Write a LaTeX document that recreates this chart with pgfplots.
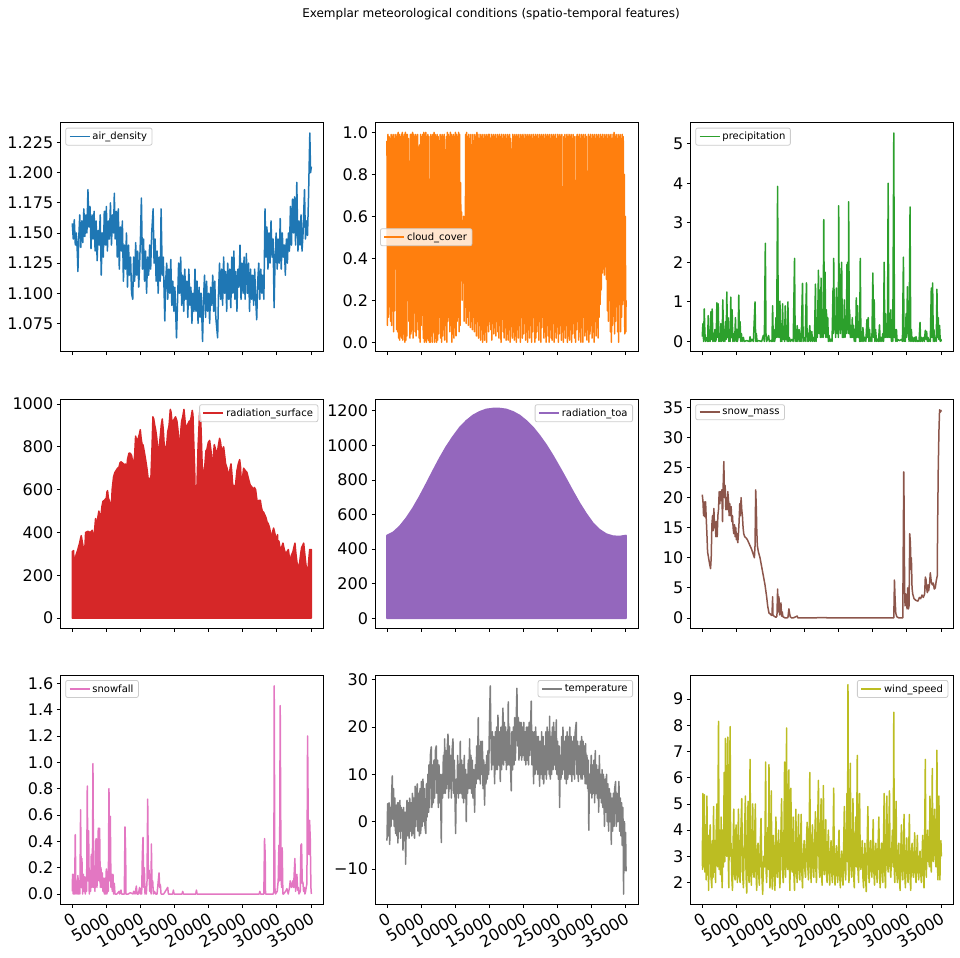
\documentclass[border=0pt]{standalone}
\usepackage{fontspec}
\setmainfont{DejaVu Sans}
\usepackage{pgfplots}
\pgfplotsset{compat=1.18}
\definecolor{c0}{HTML}{1F77B4}
\definecolor{c1}{HTML}{FF7F0E}
\definecolor{c2}{HTML}{2CA02C}
\definecolor{c3}{HTML}{D62728}
\definecolor{c4}{HTML}{9467BD}
\definecolor{c5}{HTML}{8C564B}
\definecolor{c6}{HTML}{E377C2}
\definecolor{c7}{HTML}{7F7F7F}
\definecolor{c8}{HTML}{BCBD22}
\pgfplotsset{
  panel/.style={
    scale only axis, width=263bp, height=229bp,
    xmin=-1753, xmax=36816,
    xtick={0,5000,10000,15000,20000,25000,30000,35000},
    xticklabels={},
    tick pos=left, tick align=outside,
    major tick length=3.5bp,
    tick style={black, line width=0.8bp},
    axis line style={line width=0.8bp},
    ticklabel style={font=\fontsize{16bp}{19bp}\selectfont},
    /pgf/number format/assume math mode=true,
    scaled ticks=false,
    legend cell align=left,
    legend image code/.code={\draw[##1,line width=1.7bp] (0bp,0bp) -- (20bp,0bp);},
    legend style={font=\fontsize{10bp}{12bp}\selectfont, draw=black!20, line width=0.8bp, rounded corners=2bp, fill=white, fill opacity=0.8, text opacity=1, draw opacity=1, inner xsep=3bp, inner ysep=2bp},
  },
  bottomrow/.style={xticklabels={0,5000,10000,15000,20000,25000,30000,35000}, xticklabel style={rotate=30, anchor=north east}},
  ul/.style={legend style={at={(0,1)}, anchor=north west, xshift=5bp, yshift=-5bp}},
  ur/.style={legend style={at={(1,1)}, anchor=north east, xshift=-5bp, yshift=-5bp}},
  cl/.style={legend style={at={(0,0.5)}, anchor=west, xshift=5bp}},
  ln/.style={line width=1.5bp, line join=round, mark=none},
}
\begin{document}
\begin{tikzpicture}
\path[use as bounding box] (0bp,0bp) rectangle (960bp,-958bp);
\node[font=\fontsize{12bp}{14bp}\selectfont] at (491bp,-14bp) {Exemplar meteorological conditions (spatio-temporal features)};

% ---------- air_density
\begin{axis}[panel, ul, at={(60.3bp,-122.7bp)}, anchor=north west,
  ymin=1.0515, ymax=1.2415,
  ytick={1.075,1.1,1.125,1.15,1.175,1.2,1.225},
  yticklabels={1.075,1.100,1.125,1.150,1.175,1.200,1.225}]
\addplot[c0, ln] coordinates {
(0,1.158)(150,1.145)(300,1.161)(450,1.140)(600,1.150)(750,1.133)(830,1.118)(950,1.145)(1100,1.165)(1250,1.138)
(1400,1.160)(1550,1.142)(1700,1.170)(1850,1.147)(2000,1.165)(2150,1.150)(2300,1.186)(2450,1.155)(2600,1.172)(2750,1.137)
(2900,1.165)(3050,1.145)(3200,1.168)(3350,1.135)(3500,1.160)(3650,1.127)(3800,1.152)(3950,1.140)(4100,1.165)(4250,1.115)
(4400,1.150)(4550,1.130)(4700,1.168)(4850,1.140)(5000,1.172)(5150,1.135)(5300,1.160)(5450,1.145)(5600,1.175)(5750,1.140)
(5900,1.165)(6050,1.150)(6170,1.183)(6300,1.145)(6450,1.168)(6600,1.130)(6750,1.170)(6900,1.120)(7050,1.155)(7200,1.135)
(7350,1.160)(7500,1.110)(7650,1.140)(7800,1.120)(7950,1.150)(8100,1.105)(8250,1.140)(8400,1.115)(8550,1.130)(8700,1.100)
(8870,1.095)(9000,1.130)(9150,1.110)(9300,1.142)(9450,1.115)(9600,1.135)(9750,1.105)(9900,1.128)(10000,1.145)(10140,1.179)
(10300,1.120)(10450,1.145)(10600,1.110)(10750,1.135)(10900,1.100)(11050,1.130)(11200,1.115)(11350,1.140)(11500,1.120)(11650,1.150)
(11860,1.170)(12000,1.125)(12150,1.145)(12300,1.110)(12450,1.135)(12600,1.100)(12750,1.130)(12900,1.110)(13030,1.170)(13200,1.115)
(13350,1.130)(13570,1.077)(13700,1.110)(13850,1.125)(14000,1.095)(14150,1.120)(14300,1.100)(14450,1.128)(14600,1.090)(14750,1.110)
(14900,1.085)(15050,1.105)(15290,1.063)(15450,1.095)(15600,1.125)(15750,1.100)(15900,1.130)(16050,1.090)(16200,1.115)(16350,1.085)
(16500,1.120)(16650,1.095)(16800,1.110)(16950,1.080)(17100,1.120)(17250,1.090)(17400,1.105)(17550,1.075)(17700,1.100)(17850,1.085)
(18000,1.120)(18150,1.085)(18300,1.110)(18450,1.075)(18600,1.105)(18750,1.080)(18900,1.100)(19110,1.060)(19250,1.095)(19400,1.115)
(19550,1.080)(19700,1.110)(19850,1.085)(20000,1.100)(20150,1.075)(20300,1.105)(20450,1.090)(20600,1.115)(20750,1.085)(20900,1.110)
(21050,1.080)(21320,1.063)(21450,1.100)(21600,1.125)(21750,1.095)(21900,1.120)(22050,1.090)(22200,1.130)(22350,1.100)(22500,1.118)
(22650,1.085)(22800,1.125)(22950,1.095)(23100,1.120)(23250,1.088)(23400,1.130)(23550,1.100)(23700,1.135)(23850,1.095)(24000,1.118)
(24150,1.085)(24300,1.120)(24450,1.105)(24600,1.140)(24750,1.095)(24900,1.125)(25050,1.100)(25200,1.130)(25350,1.095)(25530,1.133)
(25700,1.100)(25850,1.125)(26000,1.085)(26150,1.120)(26300,1.095)(26450,1.115)(26600,1.090)(26750,1.120)(26900,1.095)(27050,1.078)
(27200,1.110)(27350,1.125)(27500,1.095)(27650,1.120)(27800,1.100)(27950,1.115)(28100,1.095)(28270,1.170)(28400,1.130)(28550,1.155)
(28700,1.120)(28850,1.150)(29000,1.125)(29150,1.160)(29300,1.130)(29450,1.145)(29600,1.088)(29750,1.130)(29900,1.150)(30050,1.120)
(30200,1.145)(30350,1.125)(30500,1.162)(30650,1.120)(30800,1.150)(30950,1.130)(31100,1.140)(31250,1.115)(31400,1.145)(31550,1.125)
(31700,1.150)(31850,1.135)(32000,1.172)(32150,1.140)(32300,1.178)(32450,1.150)(32600,1.180)(32750,1.140)(32930,1.192)(33100,1.135)
(33250,1.160)(33400,1.140)(33550,1.165)(33700,1.135)(33850,1.150)(34060,1.186)(34200,1.145)(34350,1.160)(34500,1.148)(34650,1.180)
(34840,1.233)(34950,1.200)(35063,1.205)
};
\addlegendentry{air\_density}
\end{axis}

% ---------- cloud_cover
\begin{axis}[panel, cl, at={(375bp,-122.7bp)}, anchor=north west,
  ymin=-0.045, ymax=1.046,
  ytick={0,0.2,0.4,0.6,0.8,1.0},
  yticklabels={0.0,0.2,0.4,0.6,0.8,1.0}]
\addplot[c1, ln] coordinates {
(0,.96)(75,.08)(150,.99)(225,.12)(300,.98)(375,.30)(450,.97)(525,.10)(600,.99)(675,.08)
(750,.98)(825,.15)(900,.99)(975,.05)(1050,.97)(1125,.15)(1200,.99)(1275,.35)(1350,.98)(1425,.06)
(1500,.99)(1575,.05)(1650,1.0)(1725,.02)(1800,.99)(1875,.01)(1950,.98)(2025,.03)(2100,.99)(2175,.02)
(2250,1.0)(2325,.01)(2400,.98)(2475,.04)(2550,.99)(2625,.00)(2700,1.0)(2775,.01)(2850,.99)(2925,.03)
(3000,.99)(3075,.20)(3150,.97)(3225,.10)(3300,.75)(3375,.02)(3450,.99)(3525,.04)(3600,.99)(3675,.06)
(3750,1.0)(3825,.02)(3900,.99)(3975,.14)(4050,.98)(4125,.05)(4200,.99)(4275,.03)(4350,.98)(4425,.10)
(4500,.99)(4575,.06)(4650,.93)(4725,.02)(4800,.94)(4875,.00)(4950,.99)(5025,.08)(5100,.98)(5175,.15)
(5250,.99)(5325,.02)(5400,1.0)(5475,.00)(5550,.99)(5625,.01)(5700,1.0)(5775,.00)(5850,.98)(5925,.02)
(6000,.99)(6075,.01)(6150,.98)(6225,.00)(6300,.45)(6375,.00)(6450,.99)(6525,.03)(6600,.98)(6675,.00)
(6750,.99)(6825,.05)(6900,1.0)(6975,.00)(7050,.99)(7125,.02)(7200,.98)(7275,.00)(7350,.99)(7425,.01)
(7500,.98)(7575,.04)(7650,.96)(7725,.12)(7800,.99)(7875,.02)(7950,.98)(8025,.00)(8100,.99)(8175,.03)
(8250,.98)(8325,.06)(8400,.99)(8475,.01)(8550,.40)(8625,.08)(8700,.98)(8775,.00)(8850,1.0)(8925,.10)
(9000,.99)(9075,.12)(9150,.98)(9225,.05)(9300,1.0)(9375,.08)(9450,.99)(9525,.00)(9600,.98)(9675,.04)
(9750,.99)(9825,.02)(9900,.98)(9975,.07)(10050,1.0)(10125,.03)(10200,.99)(10275,.10)(10350,.98)(10425,.12)
(10500,1.0)(10575,.05)(10650,.99)(10725,.08)(10800,.76)(10875,.40)(10950,.62)(11025,.20)(11100,.58)(11175,.40)
(11250,.60)(11325,.10)(11400,.59)(11475,.30)(11550,.99)(11625,.09)(11700,1.0)(11775,.12)(11850,.98)(11925,.08)
(12000,.99)(12075,.15)(12150,.97)(12225,.07)(12300,.99)(12375,.10)(12450,.94)(12525,.06)(12600,.99)(12675,.12)
(12750,.96)(12825,.05)(12900,.99)(12975,.09)(13050,.98)(13125,.03)(13200,1.0)(13275,.10)(13350,.99)(13425,.02)
(13500,.97)(13575,.08)(13650,.99)(13725,.01)(13800,.98)(13875,.06)(13950,.99)(14025,.00)(14100,.97)(14175,.04)
(14250,.99)(14325,.01)(14400,.98)(14475,.05)(14550,.99)(14625,.00)(14700,.98)(14775,.08)(14850,.99)(14925,.05)
(15000,.99)(15075,.10)(15150,.97)(15225,.06)(15300,.99)(15375,.01)(15450,.98)(15525,.09)(15600,.99)(15675,.04)
(15750,.98)(15825,.07)(15900,.99)(15975,.03)(16050,.97)(16125,.10)(16200,.99)(16275,.05)(16350,.98)(16425,.02)
(16500,.99)(16575,.08)(16650,.98)(16725,.00)(16800,.99)(16875,.11)(16950,.97)(17025,.05)(17100,.99)(17175,.02)
(17250,.98)(17325,.07)(17400,.99)(17475,.01)(17550,.97)(17625,.04)(17700,.99)(17775,.01)(17850,.98)(17925,.06)
(18000,.99)(18075,.00)(18150,.97)(18225,.08)(18300,.48)(18375,.02)(18450,.99)(18525,.05)(18600,.98)(18675,.01)
(18750,.99)(18825,.03)(18900,.98)(18975,.00)(19050,.99)(19125,.06)(19200,.98)(19275,.02)(19350,.99)(19425,.08)
(19500,.97)(19575,.00)(19650,.99)(19725,.12)(19800,.98)(19875,.02)(19950,.99)(20025,.04)(20100,.97)(20175,.09)
(20250,.99)(20325,.01)(20400,.98)(20475,.05)(20550,.99)(20625,.00)(20700,.98)(20775,.06)(20850,.99)(20925,.02)
(21000,.98)(21075,.08)(21150,.99)(21225,.00)(21300,.97)(21375,.05)(21450,.99)(21525,.18)(21600,.98)(21675,.00)
(21750,.99)(21825,.02)(21900,.98)(21975,.05)(22050,.99)(22125,.08)(22200,.97)(22275,.01)(22350,.99)(22425,.10)
(22500,.98)(22575,.00)(22650,.99)(22725,.07)(22800,.98)(22875,.12)(22950,.99)(23025,.02)(23100,.97)(23175,.05)
(23250,.99)(23325,.00)(23400,.98)(23475,.08)(23550,.99)(23625,.03)(23700,.98)(23775,.00)(23850,.99)(23925,.06)
(24000,.97)(24075,.02)(24150,.99)(24225,.01)(24300,.98)(24375,.09)(24450,.99)(24525,.00)(24600,.98)(24675,.05)
(24750,.99)(24825,.02)(24900,.97)(24975,.10)(25050,.99)(25125,.00)(25200,.98)(25275,.04)(25350,.99)(25425,.08)
(25500,.98)(25575,.01)(25650,.99)(25725,.05)(25800,.67)(25875,.00)(25950,.98)(26025,.06)(26100,.99)(26175,.02)
(26250,.97)(26325,.08)(26400,.99)(26475,.00)(26550,.98)(26625,.03)(26700,.99)(26775,.01)(26850,.98)(26925,.06)
(27000,.99)(27075,.00)(27150,.97)(27225,.04)(27300,.99)(27375,.09)(27450,.98)(27525,.02)(27600,.45)(27675,.00)
(27750,.98)(27825,.06)(27900,.99)(27975,.10)(28050,.98)(28125,.01)(28200,.99)(28275,.05)(28350,.97)(28425,.00)
(28500,.99)(28575,.07)(28650,.98)(28725,.00)(28800,.99)(28875,.12)(28950,.97)(29025,.03)(29100,.99)(29175,.05)
(29250,.98)(29325,.01)(29400,.50)(29475,.06)(29550,.99)(29625,.00)(29700,.98)(29775,.04)(29850,.99)(29925,.08)
(30000,.97)(30075,.02)(30150,.99)(30225,.05)(30300,.98)(30375,.00)(30450,.99)(30525,.10)(30600,.97)(30675,.03)
(30750,.99)(30825,.07)(30900,.98)(30975,.02)(31050,.99)(31125,.12)(31200,.97)(31275,.18)(31350,.99)(31425,.25)
(31500,.98)(31575,.33)(31650,.99)(31725,.35)(31800,.97)(31875,.32)(31950,.99)(32025,.36)(32100,.98)(32175,.30)
(32250,.99)(32325,.15)(32400,.97)(32475,.10)(32550,.99)(32625,.20)(32700,.98)(32775,.05)(32850,.99)(32925,.00)
(33000,.97)(33075,.08)(33150,.99)(33225,.18)(33300,1.0)(33375,.04)(33450,.98)(33525,.10)(33600,.99)(33675,.17)
(33750,.97)(33825,.05)(33900,.99)(33975,.00)(34050,.98)(34125,.18)(34200,.99)(34275,.05)(34350,.97)(34425,.12)
(34500,.99)(34575,.18)(34650,.98)(34725,.20)(34800,.80)(34875,.04)(34950,.60)(35025,.05)(35063,.20)
};
\addlegendentry{cloud\_cover}
\end{axis}

% ---------- precipitation
\begin{axis}[panel, ul, at={(690.3bp,-122.7bp)}, anchor=north west,
  ymin=-0.26, ymax=5.53,
  ytick={0,1,2,3,4,5}, yticklabels={0,1,2,3,4,5}]
\addplot[c2, ln] coordinates {
(0,0.12)(97,0.45)(195,0)(292,0.82)(389,0.2)(487,0)(682,0.1)(779,0)(876,0.65)(974,0)
(1071,0.1)(1168,0)(1266,0.75)(1363,0.05)(1460,0.82)(1558,0)(1655,0.2)(1752,0)(1850,0.3)(1947,0)
(2045,0.05)(2142,0.98)(2239,0.1)(2337,0.95)(2434,0)(2531,0.2)(2629,0)(2726,0.45)(2823,0)(2921,0.1)
(3018,1.05)(3115,0)(3213,0.2)(3310,0)(3407,0.5)(3505,0.05)(3602,1.25)(3699,0.1)(3797,0.6)(3894,0)
(3991,0.3)(4089,0)(4186,1.12)(4283,0.1)(4381,0.8)(4478,0)(4575,0.2)(4673,0)(4770,0.1)(4867,0.6)
(4965,0)(5062,0.3)(5160,0)(5257,0.1)(5354,1.17)(5452,0.1)(5549,0.5)(5646,0)(5744,0.2)(5841,0)
(6036,0.1)(6133,0)(6523,0.02)(6912,0)(7010,0.12)(7107,0)(7302,0.05)(7497,0)(7740,1.0)(7837,0)
(7935,0.2)(8032,0)(8227,0.02)(8714,0)(8957,0.15)(9103,0)(9249,2.48)(9346,0.2)(9444,0)(9736,0.15)
(9833,0)(10028,0.02)(10222,0)(10320,0.9)(10417,0)(10514,0.3)(10612,0)(10709,0.1)(10806,0.6)(10904,0.1)
(11050,3.92)(11147,0.1)(11245,0.6)(11342,0.1)(11391,1.02)(11488,0)(11586,0.3)(11683,0)(11780,0.95)(11878,0.05)
(11975,0.2)(12073,0)(12170,0.9)(12267,0.05)(12365,0.4)(12462,0)(12559,1.0)(12657,0)(12754,0.1)(12949,0)
(13143,0.05)(13338,0)(13533,2.1)(13630,0)(13728,0.3)(13825,0)(13922,0.4)(14020,0)(14214,0.3)(14312,0)
(14409,0.2)(14506,0)(14701,1.47)(14798,0)(14896,0.1)(15090,0)(15285,1.48)(15382,0)(15480,0.2)(15577,0)
(15772,0.4)(15869,0)(16064,0.25)(16161,0)(16259,0.1)(16453,0)(16600,1.45)(16697,0)(16746,0.3)(16892,0.1)
(17038,1.8)(17135,0.2)(17233,1.3)(17330,0.1)(17427,1.6)(17525,0.1)(17622,0.6)(17719,0.1)(17817,3.08)(17914,0.2)
(18011,1.75)(18109,0.1)(18206,0.8)(18303,0.1)(18401,0.6)(18498,0)(18595,0.15)(18741,0)(18888,0.05)(19034,0)
(19180,1.35)(19229,0.2)(19277,2.1)(19375,0.3)(19472,0.5)(19569,0.1)(19667,1.35)(19764,0.2)(19862,0.8)(19959,0.1)
(20007,3.43)(20105,0.3)(20154,1.85)(20251,0.2)(20299,1.0)(20397,0.3)(20445,2.0)(20543,0.1)(20640,0.5)(20737,0.1)
(20835,1.05)(20932,0.1)(21030,0.5)(21127,0.2)(21224,1.95)(21273,0.3)(21322,2.0)(21419,0.2)(21468,3.53)(21565,0.2)
(21614,0.8)(21711,0.1)(21809,0.4)(21906,0.1)(22003,0.6)(22101,0.1)(22198,0.4)(22295,0)(22393,0.3)(22490,0)
(22587,1.1)(22685,0.1)(22782,0.9)(22879,0.1)(22977,0.5)(23074,0)(23172,2.1)(23269,0)(23366,0.2)(23464,0)
(23561,0.35)(23707,0)(23853,0.1)(23999,0)(24145,0.55)(24243,0.1)(24340,0.6)(24437,0)(24535,0.3)(24632,0)
(24729,0.1)(24875,0)(25021,1.73)(25119,0.1)(25216,1.05)(25313,0)(25411,0.3)(25557,0)(25703,0.05)(25849,0)
(25995,0.42)(26093,0)(26190,0.1)(26336,0)(26482,0.2)(26579,0)(26677,2.0)(26774,0.1)(26871,0.7)(26969,0.1)
(27066,0.4)(27163,0.1)(27261,4.0)(27358,0.1)(27455,0.7)(27553,0.1)(27650,0.8)(27747,0)(27845,0.2)(27942,0)
(28088,5.27)(28185,0.1)(28283,0.3)(28380,0)(28477,0.3)(28575,0)(28672,0.05)(28915,0.02)(29208,0.05)(29354,0)
(29500,2.13)(29597,0)(29694,0.1)(29792,0)(29889,0.7)(29986,0.1)(30084,1.38)(30132,0.2)(30181,0.6)(30327,0)
(30473,3.4)(30570,0)(30668,0.3)(30765,0)(30862,0.1)(31008,0)(31154,0.1)(31252,0)(31349,0.12)(31495,0)
(31641,0.02)(31787,0)(31934,0.48)(32031,0)(32128,0.1)(32274,0)(32420,0.1)(32566,0)(32713,0.28)(32810,0.05)
(32907,0.25)(33005,0)(33102,0.1)(33199,0)(33296,0.05)(33442,0)(33589,1.35)(33686,0.1)(33783,1.48)(33881,0)
(33978,0.3)(34075,0)(34221,0.1)(34319,0)(34416,1.32)(34513,0.1)(34611,0.6)(34708,0.05)(34805,0.4)(34902,0)
(35000,0.05)(35063,0)
};
\addlegendentry{precipitation}
\end{axis}

% ---------- radiation_surface
\begin{axis}[panel, ur, at={(60.3bp,-399.3bp)}, anchor=north west,
  ymin=-48, ymax=1022,
  ytick={0,200,400,600,800,1000}, yticklabels={0,200,400,600,800,1000}]
\addplot[c3, ln, fill=c3] coordinates {
(0,0)(0,310)(200,315)(290,225)(400,270)(600,300)(780,315)(900,330)(1080,350)(1200,370)
(1320,385)(1450,360)(1560,340)(1700,300)(1760,295)(1850,330)(1960,400)(2300,405)(2640,400)(2800,405)
(2930,410)(3050,380)(3130,350)(3250,400)(3420,465)(3550,440)(3670,450)(3800,480)(3910,500)(4050,470)
(4200,475)(4350,520)(4500,545)(4700,550)(4990,560)(5100,590)(5180,595)(5300,560)(5480,545)(5600,520)
(5720,505)(5850,600)(6060,660)(6250,680)(6450,690)(6650,700)(6850,705)(7000,725)(7140,730)(7350,725)
(7530,720)(7700,700)(7780,720)(7820,440)(7860,680)(7920,670)(8100,740)(8310,770)(8500,770)(8700,760)
(8850,730)(9000,720)(9150,760)(9290,850)(9450,830)(9680,840)(9850,860)(9980,880)(10100,840)(10250,810)
(10370,810)(10550,780)(10760,740)(10950,700)(11100,660)(11250,600)(11350,650)(11540,660)(11700,800)(11830,940)
(11950,930)(12100,900)(12230,880)(12400,840)(12500,800)(12620,760)(12750,800)(12910,850)(13050,900)(13200,930)
(13350,880)(13500,800)(13590,760)(13700,790)(13880,820)(14000,870)(14200,900)(14380,975)(14500,960)(14670,900)
(14800,920)(14960,930)(15150,940)(15350,920)(15500,880)(15700,770)(15850,850)(16040,920)(16200,940)(16380,975)
(16550,920)(16720,860)(16850,900)(17020,910)(17150,920)(17310,920)(17450,940)(17600,970)(17700,950)(17800,840)
(17950,700)(18090,480)(18150,560)(18290,620)(18450,800)(18680,960)(18850,920)(18970,800)(19070,700)(19170,630)
(19300,680)(19460,720)(19600,780)(19760,790)(19950,820)(20150,830)(20350,780)(20540,700)(20700,760)(20830,810)
(21000,790)(21220,760)(21400,800)(21610,840)(21750,820)(21900,780)(22050,790)(22200,800)(22350,760)(22490,720)
(22700,700)(22980,660)(23150,700)(23280,720)(23400,680)(23570,600)(23700,620)(23860,590)(24000,640)(24160,690)
(24350,720)(24550,740)(24700,700)(24840,480)(24950,650)(25130,700)(25350,690)(25620,680)(25850,650)(26110,620)
(26300,615)(26500,600)(26700,610)(26890,600)(27050,560)(27190,530)(27350,550)(27580,550)(27720,520)(27870,500)
(28050,495)(28260,480)(28400,470)(28560,450)(28750,440)(28950,420)(29100,390)(29240,360)(29350,400)(29530,420)
(29680,400)(29820,380)(30000,370)(30100,390)(30210,310)(30300,360)(30510,320)(30700,330)(30900,350)(31100,320)
(31290,300)(31500,310)(31690,320)(31850,280)(31980,240)(32100,290)(32370,310)(32500,330)(32660,350)(32800,300)
(32960,260)(33150,230)(33350,260)(33500,300)(33640,330)(33800,340)(33940,350)(34100,300)(34230,260)(34400,220)
(34520,200)(34650,260)(34820,320)(35000,320)(35063,320)(35063,0)
} \closedcycle;
\addlegendentry{radiation\_surface}
\end{axis}

% ---------- radiation_toa
\begin{axis}[panel, ur, at={(375bp,-399.3bp)}, anchor=north west,
  ymin=-58, ymax=1266,
  ytick={0,200,400,600,800,1000,1200}, yticklabels={0,200,400,600,800,1000,1200}]
\addplot[c4, ln, fill=c4] coordinates {
(0,0)(0,479)(880,496)(1857,531)(2835,579)(3813,637)(4790,704)(5768,777)(6745,852)(7723,925)
(8700,992)(9678,1050)(10656,1102)(11633,1142)(12611,1173)(13589,1194)(14566,1208)(15544,1213)(16522,1213)(17499,1208)
(18477,1194)(19454,1173)(20432,1142)(21410,1104)(22387,1056)(23365,1002)(24342,940)(25320,873)(26298,804)(27275,733)
(28253,665)(29230,604)(30208,550)(31186,512)(32163,487)(33141,475)(34118,473)(35063,479)(35063,0)
} \closedcycle;
\addlegendentry{radiation\_toa}
\end{axis}

% ---------- snow_mass
\begin{axis}[panel, ul, at={(690.3bp,-399.3bp)}, anchor=north west,
  ymin=-1.73, ymax=36.35,
  ytick={0,5,10,15,20,25,30,35}, yticklabels={0,5,10,15,20,25,30,35}]
\addplot[c5, ln] coordinates {
(0,20.5)(97,19.5)(195,17)(292,19.3)(389,16.8)(487,19.3)(584,16.5)(682,14)(779,11)(925,10)
(1071,9)(1217,8.2)(1314,10)(1412,15.5)(1509,17)(1606,14.5)(1704,18.2)(1801,15)(1899,16)(1996,13.5)
(2093,16)(2191,13.5)(2288,17)(2385,18)(2483,21)(2580,19)(2677,21)(2775,19.5)(2872,21.3)(2970,16)
(3067,22)(3164,26)(3262,20)(3359,22)(3456,18)(3554,20)(3651,18)(3748,21)(3846,19.5)(3943,17)
(4040,19)(4138,17)(4235,18.5)(4332,16)(4430,17)(4527,15)(4625,14)(4722,15.5)(4819,13.5)(4917,15)
(5014,13)(5111,14)(5209,12.5)(5306,14)(5403,16)(5501,19)(5598,17)(5695,20)(5793,18)(5890,17)
(5988,15)(6085,14)(6231,13.5)(6426,13.3)(6621,13)(6815,12.5)(7010,12)(7205,11.5)(7351,11)(7497,10.5)
(7643,10)(7740,12)(7837,21.3)(7935,18)(7983,15)(8081,12)(8227,11)(8470,10)(8714,8.5)(8957,7)
(9200,5.5)(9444,3.5)(9590,2)(9785,0.8)(9931,0.7)(10077,0.5)(10222,0.4)(10320,3.5)(10368,0.5)(10514,0.3)
(10660,0.2)(10806,0.1)(10952,0.3)(11050,4.8)(11147,1.0)(11245,3.5)(11342,0.5)(11440,0.8)(11537,2.5)(11634,0.3)
(11732,1.0)(11829,0.2)(11975,0.1)(12170,0)(12365,0)(12559,0.05)(12705,1.5)(12803,0.8)(12900,0.2)(13095,0)
(13338,0)(13922,0.3)(14020,0)(15285,0)(18206,0.05)(18255,0)(21614,0)(26482,0)(28088,0)(28185,6.3)
(28283,3.0)(28380,0.8)(28526,0.2)(28818,0)(29403,0)(29500,16)(29548,24.3)(29597,19)(29646,10)(29694,4)
(29743,2)(29840,4)(29938,3)(30035,1.5)(30132,5)(30230,1.5)(30327,2)(30424,14)(30522,12.5)(30619,8)
(30668,10)(30765,5)(30862,4)(31057,3.2)(31349,2.9)(31641,2.8)(31836,3.4)(32031,3.2)(32226,3.8)(32420,3.4)
(32615,4)(32713,6.8)(32810,6.4)(32907,5.0)(33005,4.2)(33102,5.5)(33199,4.5)(33345,5.8)(33442,7.5)(33589,6)
(33735,5.5)(33881,5.8)(34027,4.8)(34173,5.0)(34319,6.2)(34465,7)(34513,15)(34611,25)(34708,31)(34805,34.6)
(34902,34.2)(35000,34.5)(35063,34.3)
};
\addlegendentry{snow\_mass}
\end{axis}

% ---------- snowfall
\begin{axis}[panel, ul, bottomrow, at={(60.3bp,-675bp)}, anchor=north west,
  ymin=-0.076, ymax=1.663,
  ytick={0,0.2,0.4,0.6,0.8,1.0,1.2,1.4,1.6},
  yticklabels={0.0,0.2,0.4,0.6,0.8,1.0,1.2,1.4,1.6}]
\addplot[c6, ln] coordinates {
(0,0.02)(49,0.15)(147,0)(245,0.15)(343,0)(440,0.45)(538,0)(636,0.02)(734,0)(832,0.14)
(930,0)(1028,0.1)(1126,0)(1224,0.64)(1322,0.05)(1420,0.27)(1517,0)(1615,0.15)(1713,0.02)(1811,0.13)
(1909,0)(2007,0.13)(2105,0.02)(2203,0.82)(2301,0.1)(2399,0.48)(2496,0)(2594,0.12)(2692,0.02)(2790,0.3)
(2888,0.05)(2986,0.41)(3035,0.99)(3133,0.05)(3231,0.12)(3329,0.02)(3427,0.4)(3524,0.42)(3622,0.05)(3720,0.22)
(3818,0.5)(3916,0.1)(4014,0.5)(4112,0.05)(4210,0.2)(4308,0.05)(4406,0.16)(4503,0.02)(4601,0.12)(4699,0)
(4797,0.12)(4895,0)(4993,0.19)(5091,0)(5189,0.17)(5287,0.02)(5385,0.8)(5482,0.1)(5580,0.59)(5678,0.05)
(5776,0.15)(5874,0.02)(5972,0.15)(6070,0)(6168,0.08)(6266,0)(6559,0)(6853,0.02)(6951,0)(7147,0.03)
(7245,0)(7636,0)(7734,0.51)(7832,0.3)(7881,0)(8224,0)(8517,0.01)(8909,0)(9007,0.02)(9203,0)
(9398,0.06)(9496,0)(9692,0)(9888,0.05)(9986,0)(10084,0.04)(10182,0)(10280,0.3)(10378,0.43)(10476,0.05)
(10573,0.2)(10671,0)(10769,0.05)(10867,0)(10965,0.1)(11063,0.72)(11161,0.12)(11259,0.18)(11357,0.02)(11455,0.15)
(11553,0)(11601,0.38)(11699,0.05)(11797,0.1)(11895,0)(12042,0.02)(12238,0)(12434,0)(12727,0.16)(12825,0.05)
(12923,0.07)(13021,0)(13413,0)(13999,0.05)(14097,0)(14734,0)(14832,0.03)(14930,0)(16104,0)(16202,0.02)
(16300,0)(18112,0)(18210,0.03)(18308,0)(23692,0)(27412,0)(27510,0.02)(27608,0)(28098,0)(28196,0.42)
(28294,0.3)(28343,0)(28783,0)(29077,0)(29469,0)(29567,0.02)(29616,1.58)(29714,0.05)(29812,0)(30056,0.02)
(30203,0.1)(30301,0.37)(30399,0.1)(30496,1.43)(30594,0.36)(30692,0.05)(30790,0.35)(30888,0)(30986,0)(31280,0.02)
(31476,0.04)(31671,0)(31867,0.05)(31965,0.1)(32063,0.08)(32161,0.05)(32259,0.07)(32357,0.1)(32455,0.05)(32650,0.27)
(32748,0.02)(32846,0.1)(32944,0.15)(33042,0.03)(33140,0.05)(33238,0)(33434,0.02)(33532,0.37)(33630,0.38)(33728,0.08)
(33826,0.09)(33924,0.02)(34022,0.05)(34120,0)(34217,0.02)(34413,0.08)(34511,1.2)(34609,0.56)(34707,0.3)(34805,0.56)
(34903,0.42)(35001,0.05)(35063,0)
};
\addlegendentry{snowfall}
\end{axis}

% ---------- temperature
\begin{axis}[panel, ur, bottomrow, at={(375bp,-675bp)}, anchor=north west,
  ymin=-17.4, ymax=31.0,
  ytick={-10,0,10,20,30}, yticklabels={−10,0,10,20,30}]
\addplot[c7, ln] coordinates {
(0,-4.0)(100,3.8)(200,-3.0)(300,4.0)(400,-4.8)(500,3.0)(600,-1.0)(700,6.0)(780,9.7)(880,0.5)
(960,7.0)(1060,-1.0)(1160,5.0)(1260,-2.5)(1360,3.5)(1460,-3.0)(1560,4.0)(1610,-4.5)(1700,4.0)(1800,-2.0)
(1900,4.5)(2000,-3.5)(2100,3.0)(2200,-2.0)(2300,2.5)(2350,-6.0)(2450,3.0)(2550,-4.0)(2650,2.0)(2740,-9.0)
(2840,1.0)(2940,4.5)(3040,-3.0)(3140,4.0)(3240,-3.5)(3340,5.0)(3440,-2.0)(3540,4.0)(3640,-3.0)(3740,6.0)
(3840,-2.5)(3940,5.0)(4040,-3.5)(4140,7.5)(4240,-1.0)(4340,6.0)(4450,8.0)(4550,-2.0)(4650,6.0)(4750,-3.0)
(4850,7.0)(4950,-2.5)(5050,8.5)(5150,-1.0)(5280,9.0)(5380,0.0)(5480,7.0)(5580,-1.0)(5700,-2.5)(5800,8.0)
(5900,1.0)(6000,10.0)(6100,2.0)(6160,12.0)(6260,3.0)(6360,14.0)(6500,15.8)(6600,3.0)(6700,12.0)(6800,4.0)
(6900,13.0)(7000,5.0)(7100,15.0)(7230,16.0)(7330,6.0)(7430,13.0)(7530,3.0)(7630,12.0)(7730,4.0)(7830,10.0)
(7970,-4.4)(8070,10.0)(8170,5.0)(8270,14.0)(8370,6.0)(8460,17.5)(8560,6.0)(8660,15.0)(8760,7.0)(8860,16.0)
(8950,18.5)(9050,5.0)(9150,16.0)(9250,7.0)(9350,14.0)(9450,5.0)(9550,15.0)(9680,17.5)(9780,6.0)(9880,13.0)
(9980,5.0)(10070,-2.5)(10170,9.0)(10270,6.0)(10370,14.0)(10470,5.0)(10570,12.0)(10660,6.0)(10750,17.0)(10850,6.0)
(10950,13.0)(11050,5.0)(11140,12.0)(11240,4.0)(11340,14.0)(11440,5.0)(11540,11.0)(11630,0.0)(11730,10.0)(11830,6.0)
(11930,13.0)(12030,7.0)(12120,17.5)(12220,7.0)(12320,14.0)(12420,6.0)(12520,13.0)(12620,5.0)(12720,11.0)(12860,2.0)
(12960,12.0)(13060,8.0)(13160,16.0)(13260,9.0)(13390,22.0)(13490,9.0)(13590,16.0)(13690,8.0)(13790,17.0)(13890,10.0)
(13990,17.0)(14090,7.0)(14190,13.0)(14320,3.5)(14420,12.0)(14520,8.0)(14620,14.0)(14720,9.0)(14820,15.0)(14920,10.0)
(15020,20.0)(15150,28.7)(15250,18.0)(15350,11.0)(15450,19.0)(15550,12.0)(15650,18.0)(15790,8.0)(15890,19.0)(15990,11.0)
(16090,20.0)(16180,11.0)(16280,22.5)(16380,12.0)(16480,19.0)(16620,8.5)(16720,20.0)(16820,11.0)(16920,19.0)(17010,24.0)
(17110,12.0)(17210,21.0)(17310,13.0)(17410,20.0)(17510,11.0)(17610,19.0)(17700,12.0)(17790,25.3)(17890,12.0)(17990,20.0)
(18090,13.0)(18230,6.5)(18330,19.0)(18430,11.0)(18530,20.0)(18630,12.0)(18730,22.0)(18830,13.0)(18930,20.0)(19060,28.2)
(19160,16.0)(19260,22.0)(19360,13.0)(19460,21.0)(19560,14.0)(19660,21.0)(19760,13.0)(19860,20.0)(19960,14.0)(20060,21.0)
(20160,13.0)(20260,19.0)(20360,12.0)(20460,20.0)(20560,13.0)(20660,20.0)(20760,12.0)(20860,21.0)(20960,14.0)(21060,20.0)
(21160,25.5)(21260,12.0)(21360,19.0)(21510,8.0)(21610,19.0)(21710,10.0)(21810,20.0)(21910,11.0)(22010,18.0)(22110,10.0)
(22210,18.0)(22390,7.5)(22490,17.0)(22590,10.0)(22690,19.0)(22790,9.0)(22890,18.0)(22990,8.0)(23090,16.0)(23190,10.0)
(23290,19.0)(23390,9.0)(23490,20.0)(23590,11.0)(23690,19.0)(23790,10.0)(23850,22.3)(23950,9.0)(24050,18.0)(24150,10.0)
(24250,20.0)(24350,11.0)(24450,21.0)(24550,12.0)(24650,19.0)(24750,11.0)(24830,21.5)(24930,10.0)(25030,17.0)(25130,9.0)
(25230,16.0)(25320,3.0)(25420,14.0)(25520,9.0)(25620,18.0)(25720,10.0)(25810,20.0)(25910,11.0)(26010,17.0)(26110,9.0)
(26210,18.0)(26310,8.0)(26410,19.0)(26510,9.0)(26610,18.0)(26710,10.0)(26810,20.0)(26910,10.0)(27010,18.0)(27110,8.5)
(27210,17.0)(27310,10.0)(27410,18.0)(27510,9.0)(27610,19.0)(27760,21.0)(27860,10.0)(27960,17.0)(28060,8.5)(28160,16.0)
(28260,10.0)(28360,17.0)(28460,9.0)(28560,18.0)(28660,9.0)(28760,17.0)(28860,10.0)(28960,16.0)(29060,8.0)(29130,16.5)
(29230,8.0)(29330,14.0)(29430,7.0)(29520,13.0)(29600,-1.8)(29700,10.0)(29800,6.0)(29960,14.0)(30060,5.0)(30160,12.0)
(30260,6.0)(30360,13.0)(30460,4.0)(30550,15.0)(30650,6.0)(30750,12.0)(30850,5.0)(30950,11.0)(31050,2.0)(31150,14.0)
(31250,5.0)(31350,10.0)(31450,4.0)(31550,11.0)(31650,3.0)(31750,10.0)(31900,-1.0)(32000,9.0)(32100,2.0)(32200,10.0)
(32300,0.0)(32400,8.0)(32500,-2.0)(32600,7.0)(32700,0.0)(32800,6.0)(32900,-4.8)(33000,5.0)(33100,-2.0)(33200,6.0)
(33300,-1.0)(33400,7.0)(33530,8.5)(33630,-1.0)(33730,6.0)(33830,0.0)(33930,5.0)(34020,8.5)(34120,-2.0)(34220,5.0)
(34320,-3.0)(34410,4.0)(34500,-5.0)(34580,3.0)(34640,-1.0)(34700,-15.3)(34760,-5.0)(34830,0.0)(34900,-4.0)(34950,-10.3)
(35000,-2.3)(35063,-10.5)
};
\addlegendentry{temperature}
\end{axis}

% ---------- wind_speed
\begin{axis}[panel, ur, bottomrow, at={(690.3bp,-675bp)}, anchor=north west,
  ymin=1.18, ymax=9.92,
  ytick={2,3,4,5,6,7,8,9}, yticklabels={2,3,4,5,6,7,8,9}]
\addplot[c8, ln] coordinates {
(0,3.6)(40,2.5)(97,5.4)(200,2.6)(292,5.35)(380,2.4)(480,4.2)(580,2.1)(682,5.3)(780,2.3)
(860,3.8)(925,1.7)(1040,3.5)(1168,4.2)(1280,2.2)(1412,1.8)(1500,3.6)(1600,2.2)(1655,4.9)(1760,2.4)
(1860,3.6)(1947,2.0)(2040,3.9)(2142,5.0)(2250,2.6)(2385,8.15)(2470,2.5)(2560,4.0)(2660,2.3)(2775,4.5)
(2850,2.4)(2921,1.8)(3020,4.0)(3110,2.6)(3213,6.2)(3300,2.8)(3407,7.5)(3500,3.2)(3602,3.0)(3680,6.0)
(3748,7.55)(3820,2.8)(3894,1.8)(3990,5.5)(4089,7.95)(4160,3.0)(4235,3.5)(4330,2.2)(4430,1.7)(4530,3.6)
(4625,4.8)(4720,2.3)(4819,2.1)(4900,3.8)(4965,4.2)(5060,2.4)(5160,2.0)(5230,3.5)(5306,4.8)(5420,2.3)
(5549,2.0)(5660,3.9)(5793,5.2)(5900,2.4)(6036,1.8)(6180,3.7)(6328,5.3)(6420,2.3)(6523,1.6)(6620,3.6)
(6718,5.1)(6790,2.4)(6864,2.0)(6940,3.8)(7010,6.7)(7100,2.5)(7205,1.9)(7300,3.6)(7399,5.0)(7500,2.4)
(7594,2.2)(7690,3.9)(7789,5.0)(7880,2.4)(7983,1.7)(8080,3.0)(8178,3.5)(8280,2.3)(8373,1.9)(8500,3.4)
(8617,4.45)(8740,2.3)(8860,1.55)(9000,3.0)(9152,2.6)(9230,4.5)(9298,6.6)(9370,2.4)(9444,2.0)(9540,3.6)
(9639,4.1)(9710,2.5)(9785,6.5)(9860,2.6)(9931,1.8)(10030,3.7)(10126,5.5)(10200,2.4)(10271,1.75)(10340,3.2)
(10417,3.8)(10540,2.3)(10660,1.7)(10730,3.4)(10806,4.5)(10900,2.5)(11002,2.2)(11100,3.3)(11196,4.0)(11290,2.4)
(11391,1.8)(11510,3.5)(11634,5.2)(11760,2.5)(11878,2.0)(11980,3.8)(12073,6.6)(12150,2.6)(12219,2.2)(12290,4.0)
(12365,7.9)(12440,3.0)(12510,2.5)(12610,4.0)(12705,6.3)(12780,2.6)(12851,1.7)(12920,3.5)(12997,5.6)(13090,2.6)
(13192,2.4)(13260,3.4)(13338,4.5)(13430,2.4)(13533,1.7)(13630,3.3)(13728,4.8)(13820,2.5)(13922,2.0)(14020,3.5)
(14117,4.6)(14210,2.5)(14312,2.1)(14410,3.4)(14506,4.6)(14600,2.4)(14701,1.8)(14820,3.0)(14945,3.6)(15040,2.5)
(15139,2.2)(15260,3.4)(15383,4.3)(15480,2.6)(15577,2.1)(15680,3.9)(15772,6.2)(15870,2.6)(15967,2.0)(16060,3.3)
(16162,4.2)(16260,2.6)(16356,2.2)(16480,3.5)(16600,4.7)(16680,2.4)(16746,2.0)(16890,3.8)(17038,5.9)(17130,2.6)
(17233,2.2)(17330,3.7)(17427,5.2)(17500,2.4)(17573,1.9)(17670,3.6)(17768,5.7)(17840,2.7)(17914,2.3)(18010,3.4)
(18109,4.4)(18200,2.4)(18304,2.0)(18400,3.3)(18498,4.0)(18600,2.4)(18693,1.9)(18790,3.0)(18887,3.6)(18980,2.4)
(19082,2.0)(19180,3.5)(19277,5.6)(19370,2.4)(19472,1.9)(19570,2.9)(19667,3.4)(19760,2.4)(19862,2.0)(19960,3.2)
(20056,4.0)(20150,2.3)(20251,1.8)(20350,2.8)(20446,3.2)(20540,2.3)(20640,1.9)(20740,3.4)(20835,4.9)(20930,2.5)
(21030,2.1)(21130,3.6)(21224,5.4)(21300,2.8)(21370,9.55)(21440,2.5)(21516,2.0)(21610,4.0)(21711,6.55)(21810,2.6)
(21906,2.2)(22000,3.5)(22100,5.2)(22200,2.3)(22295,1.8)(22390,3.4)(22490,4.5)(22610,2.6)(22733,6.85)(22830,2.5)
(22928,2.0)(23000,3.5)(23074,5.4)(23170,2.8)(23269,2.5)(23370,3.0)(23464,3.6)(23560,2.2)(23659,1.8)(23760,2.9)
(23853,3.5)(23950,2.2)(24048,1.65)(24170,3.3)(24291,4.9)(24390,2.4)(24486,2.0)(24580,3.0)(24681,3.6)(24780,2.5)
(24876,2.2)(24970,3.3)(25070,4.4)(25170,2.4)(25265,1.9)(25360,3.0)(25460,3.5)(25560,2.4)(25655,2.0)(25780,3.4)
(25898,4.5)(26000,2.3)(26092,1.8)(26190,3.0)(26287,3.5)(26380,2.4)(26482,2.0)(26580,3.6)(26677,5.4)(26770,2.4)
(26871,1.8)(26970,3.5)(27066,5.3)(27160,2.8)(27261,2.4)(27360,3.8)(27455,5.5)(27550,2.6)(27650,2.2)(27770,3.2)
(27894,4.0)(28000,2.6)(28088,8.5)(28160,2.5)(28234,2.0)(28330,3.4)(28428,5.1)(28520,2.4)(28623,2.0)(28720,2.9)
(28818,3.5)(28910,2.2)(29013,1.7)(29110,3.1)(29208,4.2)(29300,2.5)(29403,2.1)(29500,3.3)(29597,4.6)(29700,2.3)
(29792,1.8)(29890,3.0)(29986,3.7)(30080,2.4)(30181,2.0)(30280,3.2)(30376,4.6)(30470,2.3)(30570,1.7)(30670,2.9)
(30765,3.5)(30860,2.5)(30960,2.2)(31060,3.1)(31154,3.9)(31250,2.4)(31349,2.0)(31450,3.0)(31544,3.8)(31640,2.5)
(31739,2.1)(31840,2.8)(31933,3.2)(32030,2.4)(32128,2.0)(32230,3.0)(32323,3.8)(32420,2.4)(32518,1.8)(32610,3.5)
(32713,6.7)(32790,2.6)(32859,2.2)(32960,3.4)(33053,4.0)(33130,2.8)(33199,3.1)(33300,2.6)(33394,5.3)(33490,2.8)
(33589,2.4)(33660,3.8)(33735,6.35)(33810,3.0)(33881,2.8)(33980,3.5)(34075,4.8)(34170,3.0)(34270,2.6)(34340,4.0)
(34416,7.05)(34490,2.8)(34562,2.1)(34640,3.5)(34708,5.3)(34780,2.6)(34854,2.1)(34930,3.4)(35000,3.6)(35063,3.0)
};
\addlegendentry{wind\_speed}
\end{axis}
\end{tikzpicture}
\end{document}
